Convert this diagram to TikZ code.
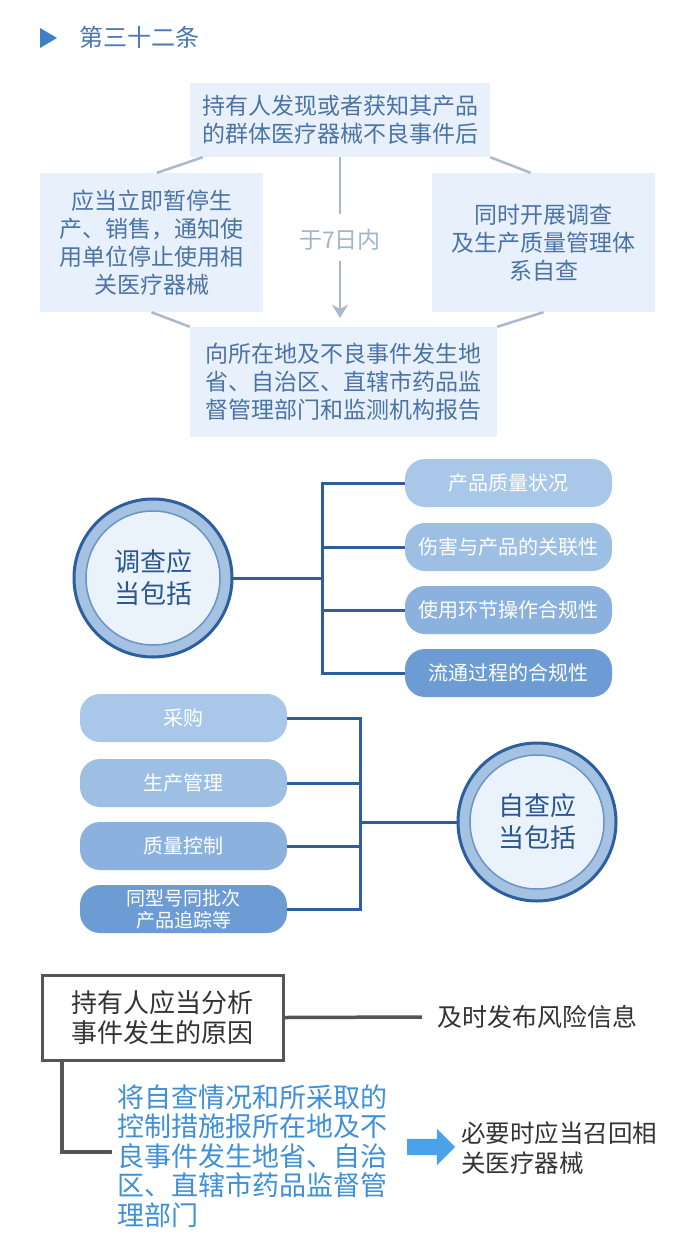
\documentclass[tikz,border=0pt]{standalone}
\usepackage{fontspec}
\setmainfont{Noto Sans CJK SC}
\usetikzlibrary{shapes.arrows,arrows.meta}
\definecolor{boxfill}{HTML}{E8F1FB}
\definecolor{boxtext}{HTML}{4B73A6}
\definecolor{grayline}{HTML}{AAB9CD}
\definecolor{graytext}{HTML}{A3B4CA}
\definecolor{treeline}{HTML}{2D5F9E}
\definecolor{ringfill}{HTML}{A6C2E2}
\definecolor{innerfill}{HTML}{EAF2FB}
\definecolor{innerstroke}{HTML}{6B93C6}
\definecolor{circtext}{HTML}{2B5590}
\definecolor{pillA}{HTML}{A9C8E9}
\definecolor{pillB}{HTML}{9EBFE4}
\definecolor{pillC}{HTML}{8BB2DE}
\definecolor{pillD}{HTML}{6C9CD3}
\definecolor{titleblue}{HTML}{3F7FC7}
\definecolor{titletext}{HTML}{4B78B0}
\definecolor{darkgray}{HTML}{555555}
\definecolor{darktext}{HTML}{333333}
\definecolor{bluetext}{HTML}{3F8FD9}
\definecolor{fatarrow}{HTML}{4AA3EA}
\begin{document}
\begin{tikzpicture}[x=1pt,y=-1pt,
  infobox/.style={fill=boxfill, text=boxtext, align=center, inner sep=0pt,
    font=\fontsize{23}{28}\selectfont},
  conn/.style={draw=grayline, line width=2.5pt},
  pill/.style={rounded corners=20pt, text=white, align=center, inner sep=0pt,
    minimum width=207pt, minimum height=48pt, font=\fontsize{20}{23}\selectfont},
  tree/.style={draw=treeline, line width=3pt},
  ctext/.style={circle, fill=innerfill, draw=innerstroke, line width=1.5pt,
    minimum size=134pt, inner sep=0pt, text=circtext, align=center,
    font=\fontsize{26}{32}\selectfont},
  sect/.style={text=darktext, inner sep=0pt},
  thick3/.style={draw=darkgray, line width=3.5pt}
]
\useasboundingbox (0,0) rectangle (700,1249);
\fill[white] (0,0) rectangle (700,1249);

% title
\fill[titleblue] (40,28) -- (57,38) -- (40,48) -- cycle;
\node[anchor=west, text=titletext, inner sep=0pt, font=\fontsize{24}{28}\selectfont] (title) at (79,37) {第三十二条};

% top section
\node[infobox, minimum width=300pt, minimum height=74pt] (top) at (340,120) {持有人发现或者获知其产品\\的群体医疗器械不良事件后};
\node[infobox, minimum width=223pt, minimum height=139pt] (left) at (151.5,242.5) {应当立即暂停生\\产、销售，通知使\\用单位停止使用相\\关医疗器械};
\node[infobox, minimum width=223pt, minimum height=139pt] (right) at (543.5,242.5) {同时开展调查\\及生产质量管理体\\系自查};
\node[infobox, minimum width=307pt, minimum height=110pt] (bot) at (343.5,382) {向所在地及不良事件发生地\\省、自治区、直辖市药品监\\督管理部门和监测机构报告};
\node[text=graytext, inner sep=0pt, font=\fontsize{23}{28}\selectfont] (d7) at (340,240) {于7日内};

\draw[conn] (top.south -| d7) -- (d7.north) [shorten >=15pt];
\draw[conn, -{Stealth[length=13pt,width=16pt,inset=4pt]}, shorten <=10pt, shorten >=9pt] (d7.south) -- (bot.north -| d7);
\draw[conn] ([xshift=13pt]top.south west) -- ([xshift=5.5pt]left.north);
\draw[conn] (top.south east) -- ([xshift=-13pt]right.north);
\draw[conn] (left.south) -- (bot.north west);
\draw[conn] (right.south) -- (bot.north east);

% investigation tree
\fill[ringfill, draw=treeline, line width=3pt] (153,578) circle (79);
\node[ctext] (c1) at (153,578) {调查应\\当包括};
\node[pill, fill=pillA] (p1) at (508.5,483) {产品质量状况};
\node[pill, fill=pillB] (p2) at (508.5,547) {伤害与产品的关联性};
\node[pill, fill=pillC] (p3) at (508.5,610) {使用环节操作合规性};
\node[pill, fill=pillD] (p4) at (508.5,673) {流通过程的合规性};
\coordinate (j1) at (322,578);
\draw[tree] ([xshift=12pt]c1.east) -- (j1);
\draw[tree] (p1.west) -| (j1) |- (p4.west);
\draw[tree] (p2.west) -- (p2.west -| j1);
\draw[tree] (p3.west) -- (p3.west -| j1);

% self-check tree
\fill[ringfill, draw=treeline, line width=3pt] (537,822) circle (79);
\node[ctext] (c2) at (537,822) {自查应\\当包括};
\node[pill, fill=pillA] (q1) at (183.5,718) {采购};
\node[pill, fill=pillB] (q2) at (183.5,783) {生产管理};
\node[pill, fill=pillC] (q3) at (183.5,846) {质量控制};
\node[pill, fill=pillD, font=\fontsize{19}{22}\selectfont] (q4) at (183.5,909) {同型号同批次\\产品追踪等};
\coordinate (j2) at (360,822);
\draw[tree] ([xshift=-12pt]c2.west) -- (j2);
\draw[tree] (q1.east) -| (j2) |- (q4.east);
\draw[tree] (q2.east) -- (q2.east -| j2);
\draw[tree] (q3.east) -- (q3.east -| j2);

% bottom section
\node[draw=darkgray, line width=3pt, fill=white, minimum width=241pt, minimum height=85pt,
  align=center, text=darktext, inner sep=0pt, font=\fontsize{26}{30}\selectfont] (b1) at (162.5,1017.5) {持有人应当分析\\事件发生的原因};
\node[sect, anchor=west, font=\fontsize{25}{30}\selectfont] (t1) at (437,1017) {及时发布风险信息};
\coordinate (e1) at (422,1017);
\draw[thick3] (b1.east) -- (e1);
\node[anchor=west, align=left, text=bluetext, inner sep=0pt, font=\fontsize{27}{29.5}\selectfont] (bt) at (117,1156) {将自查情况和所采取的\\控制措施报所在地及不\\良事件发生地省、自治\\区、直辖市药品监督管\\理部门};
\coordinate (k1) at (62,1152);
\coordinate (k2) at (112,1152);
\draw[thick3] (b1.south -| k1) -- (k1) -- (k2);
\node[single arrow, fill=fatarrow, inner sep=8pt, minimum height=48pt, single arrow head extend=10pt, shape border rotate=0] (ar) at (427,1147) {};
\node[sect, anchor=west, align=left, font=\fontsize{24.5}{30}\selectfont] (t2) at (461,1148) {必要时应当召回相\\关医疗器械};
\end{tikzpicture}
\end{document}
